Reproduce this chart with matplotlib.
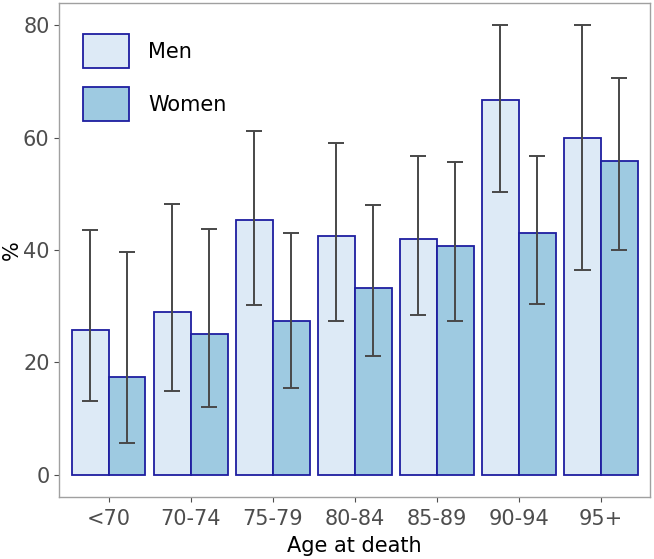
import numpy as np
import matplotlib
matplotlib.use("Agg")
import matplotlib.pyplot as plt

ages = ["<70", "70-74", "75-79", "80-84", "85-89", "90-94", "95+"]
men = [25.8, 29.0, 45.3, 42.5, 42.0, 66.7, 60.0]
men_lo = [13.1, 14.9, 30.2, 27.4, 28.5, 50.4, 36.4]
men_hi = [43.6, 48.2, 61.2, 59.0, 56.8, 80.0, 80.0]
women = [17.4, 25.0, 27.3, 33.3, 40.8, 43.1, 55.8]
women_lo = [5.7, 12.1, 15.5, 21.2, 27.3, 30.4, 40.0]
women_hi = [39.6, 43.7, 43.0, 48.0, 55.7, 56.8, 70.6]

men_color = "#DDEAF6"
women_color = "#9ECAE1"
edge = "#1E1EA0"
err_color = "#484848"

fig = plt.figure(figsize=(6.54, 5.59), dpi=100)
ax = fig.add_axes([0.0907, 0.1109, 0.9032, 0.8837])

x = np.arange(1, len(ages) + 1)
w = 0.45
ax.bar(x - w / 2, men, w, color=men_color, edgecolor=edge, linewidth=1.3, label="Men", zorder=2)
ax.bar(x + w / 2, women, w, color=women_color, edgecolor=edge, linewidth=1.3, label="Women", zorder=2)

for xs, lo, hi in [(x - w / 2, men_lo, men_hi), (x + w / 2, women_lo, women_hi)]:
    ax.vlines(xs, lo, hi, color=err_color, linewidth=1.4, zorder=3)
    ax.hlines(lo, xs - 0.1, xs + 0.1, color=err_color, linewidth=1.4, zorder=3)
    ax.hlines(hi, xs - 0.1, xs + 0.1, color=err_color, linewidth=1.4, zorder=3)

ax.set_xlim(0.4, 7.6)
ax.set_ylim(-4, 84)
ax.set_xticks(x)
ax.set_xticklabels(ages)
ax.set_yticks([0, 20, 40, 60, 80])
ax.tick_params(colors="#4D4D4D", labelsize=15, length=3.5, width=0.8)
ax.tick_params(axis="x", pad=5)
for s in ax.spines.values():
    s.set_color("#A0A0A0")
    s.set_linewidth(1.0)

ax.set_xlabel("Age at death", fontsize=15, labelpad=5)
ax.set_ylabel("%", fontsize=15, labelpad=1)

ax.legend(loc="upper left", bbox_to_anchor=(0.0396, 0.9366), frameon=False,
          fontsize=15, handlelength=2.24, handleheight=2.13, labelspacing=0.91,
          handletextpad=0.9, borderpad=0, borderaxespad=0)

fig.savefig("out.png", dpi=100)
